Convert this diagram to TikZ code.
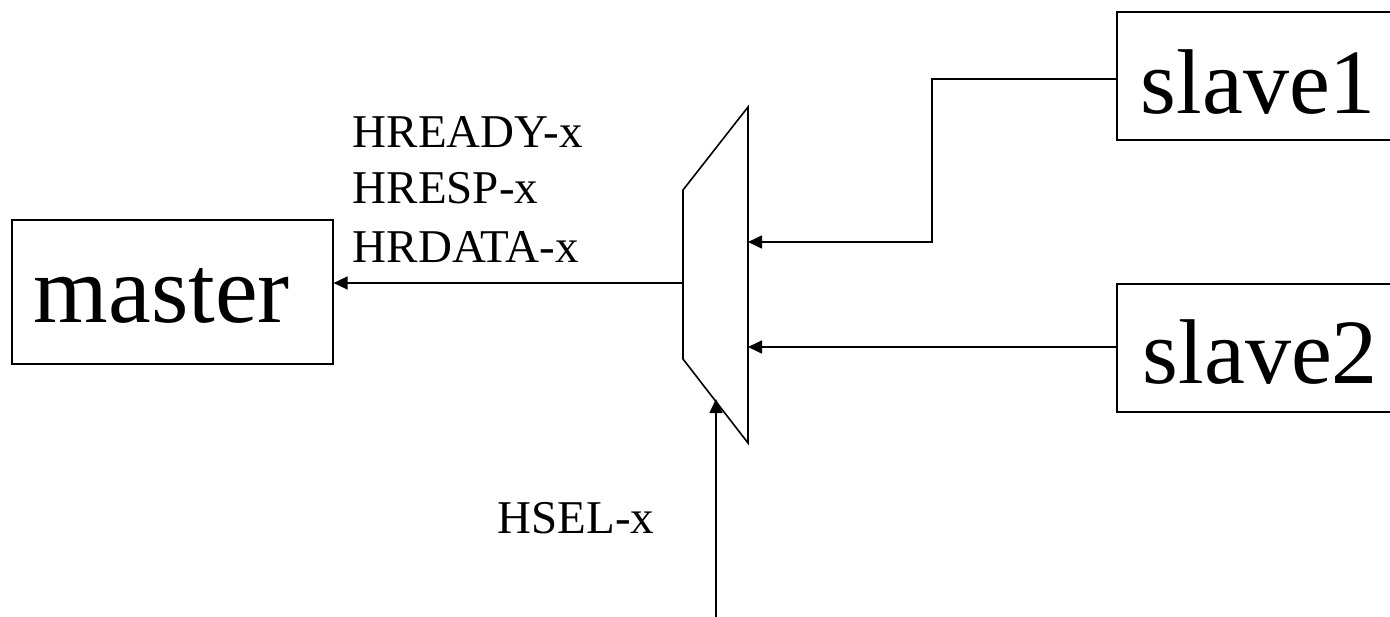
\documentclass[tikz,border=0pt]{standalone}
\usepackage{fontspec}
\setmainfont{Liberation Serif}
\usetikzlibrary{arrows.meta,calc}
\begin{document}
\begin{tikzpicture}[x=1pt,y=-1pt, line width=1.6pt,
  box/.style={draw, rectangle, inner sep=0pt, anchor=north west},
  sig/.style={font=\fontsize{47}{56}\selectfont, inner sep=0pt, anchor=base west},
  wire/.style={-{Triangle[length=14pt,width=13pt]}}]
\path[use as bounding box] (0,0) rectangle (1390,616);
\clip (0,0) rectangle (1390,616);
% blocks
\node[box, font=\fontsize{96}{100}\selectfont, text height=103pt, text depth=41pt] (master) at (11,219)
  {\makebox[321pt][l]{\hspace{22pt}master}};
\node[box, font=\fontsize{92}{100}\selectfont, text height=102pt, text depth=26pt] (slave1) at (1116,11)
  {\makebox[400pt][l]{\hspace{24pt}slave1}};
\node[box, font=\fontsize{92}{100}\selectfont, text height=100pt, text depth=28pt] (slave2) at (1116,283)
  {\makebox[400pt][l]{\hspace{26pt}slave2}};
% multiplexer
\coordinate (mA) at (683,190);
\coordinate (mB) at (748,107);
\coordinate (mC) at (748,443);
\coordinate (mD) at (683,359);
\draw[line join=miter] (mA) -- (mB) -- (mC) -- (mD) -- cycle;
\coordinate (in1) at (748,242);
\coordinate (in2) at (748,347);
\coordinate (sel) at (716,399);
\coordinate (out) at (683,283);
\coordinate (selsrc) at (716,630);
\coordinate (bend) at (932,160);
% connectors
\draw[wire] (out) -- (master.east |- out);
\draw[wire] ([yshift=-3pt]slave1.west) -| (bend) |- (in1);
\draw[wire] (slave2.west |- in2) -- (in2);
\draw[wire] (selsrc) -- (sel);
% labels
\node[sig] (l1) at (352,147) {HREADY-x};
\node[sig] (l2) at (352,203) {HRESP-x};
\node[sig] (l3) at (352,262) {HRDATA-x};
\node[sig] (l4) at (497,533) {HSEL-x};
\end{tikzpicture}
\end{document}
